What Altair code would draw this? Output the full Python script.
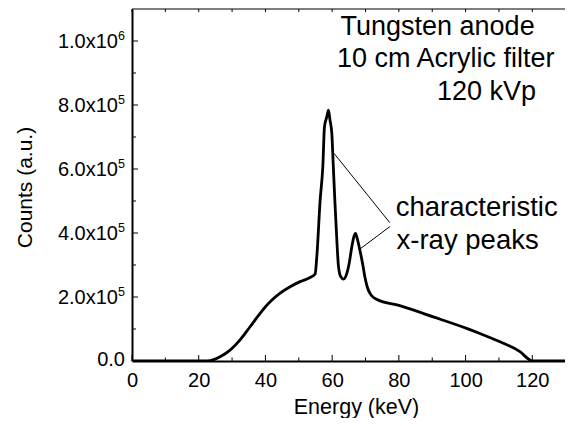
import altair as alt
import pandas as pd

# Spectrum
energy = [0, 20, 21.5, 23.4, 26.4, 29.4, 32.4, 35.4, 38.4, 41.4, 44.4, 47.4, 50.4, 53.4, 54.9,
          55.4, 56.4, 57.2, 57.7, 58.4, 58.9, 59.35, 59.9, 60.35, 60.8, 61.4, 61.9, 62.6,
          63.4, 64.4, 65.1, 65.9, 66.5, 67.0, 67.5, 68.3, 69.2, 69.8, 70.5, 71.3, 72.3,
          73.3, 80.5, 90.3, 100.3, 104.3, 110.3, 116.3, 119.3, 120, 130]
counts = [0, 0, 0, 1000, 13000, 34000, 66000, 107000, 149000, 185000, 212000, 232000,
          248000, 261000, 272000, 326000, 503000, 607000, 732000, 763000, 784000, 753000,
          711000, 607000, 503000, 378000, 295000, 263000, 256000, 274000, 305000, 357000,
          388000, 399000, 383000, 347000, 300000, 263000, 232000, 212000, 199000, 193000,
          172000, 138000, 102000, 86000, 60000, 29000, 3000, 0, 0]

# Axis ticks / labels
x_major = [0, 20, 40, 60, 80, 100, 120]
x_minor = [10, 30, 50, 70, 90, 110]
x_top = [0, 10, 20, 30, 40, 50, 60, 70, 80, 90, 100, 110, 120]
y_major = [200000, 400000, 600000, 800000, 1000000]
y_minor = [100000, 300000, 500000, 700000, 900000]
y_mantissa = ["2.0x10", "4.0x10", "6.0x10", "8.0x10", "1.0x10"]
y_exponent = ["5", "5", "5", "5", "6"]
y_zero = [0]
y_zero_label = ["0.0"]

# Annotations
info_text = ["Tungsten anode", "10 cm Acrylic filter", "120 kVp"]
info_x = [62.5, 61.45, 91.4]
info_y = [1019000, 919700, 815600]
peak_text = ["characteristic", "x-ray peaks"]
peak_x = [79.05, 79.3]
peak_y = [453000, 350000]
leader_x = [60.55, 77.3]
leader_y = [649000, 420000]
leader_x2 = [77.3, 68.6]
leader_y2 = [432000, 352000]

FONT = "Liberation Sans"
W, H = 433, 352
XMAX = 129.8
xs = alt.Scale(domain=[0, XMAX], nice=False, zero=False)
ys = alt.Scale(domain=[0, 1100000], nice=False, zero=False)

spec = pd.DataFrame({"energy": energy, "counts": counts})

line = alt.Chart(spec).mark_line(color="black", strokeWidth=2.8, strokeJoin="round",
                                 interpolate="monotone", clip=True).encode(
    x=alt.X("energy:Q", scale=xs,
            axis=alt.Axis(values=x_major, ticks=False, tickSize=0, grid=False,
                          domainColor="black", domainWidth=2, labelFont=FONT,
                          labelFontSize=20, labelColor="black", labelPadding=9,
                          title="Energy (keV)", titleFont=FONT, titleFontSize=21.5,
                          titleFontWeight="normal", titleColor="black",
                          titleX=224, titleY=52, titleBaseline="alphabetic",
                          titleAlign="center", labelFlush=False)),
    y=alt.Y("counts:Q", scale=ys,
            axis=alt.Axis(values=y_major, labels=False, ticks=False, tickSize=0, grid=False,
                          domainColor="black", domainWidth=2,
                          title="Counts (a.u.)", titleFont=FONT, titleFontSize=21,
                          titleFontWeight="normal", titleColor="black", titleAngle=270,
                          titleX=-101, titleY=178, titleBaseline="alphabetic",
                          titleAlign="center")),
)

# tick rules (inward ticks)
xmaj = alt.Chart(pd.DataFrame({"v": x_major})).mark_rule(color="black", strokeWidth=1).encode(
    x=alt.X("v:Q", scale=xs), y=alt.value(H), y2=alt.value(H - 6))
xmin = alt.Chart(pd.DataFrame({"v": x_minor})).mark_rule(color="black", strokeWidth=1).encode(
    x=alt.X("v:Q", scale=xs), y=alt.value(H), y2=alt.value(H - 3.5))
xtop = alt.Chart(pd.DataFrame({"v": x_top})).mark_rule(color="black", strokeWidth=1).encode(
    x=alt.X("v:Q", scale=xs), y=alt.value(0), y2=alt.value(3))
topline = alt.Chart(pd.DataFrame({"v": [0]})).mark_rule(color="black", strokeWidth=1.2).encode(
    x=alt.value(0), x2=alt.value(W), y=alt.value(0))
ymaj = alt.Chart(pd.DataFrame({"v": y_major})).mark_rule(color="black", strokeWidth=1).encode(
    y=alt.Y("v:Q", scale=ys), x=alt.value(0), x2=alt.value(6))
ymin = alt.Chart(pd.DataFrame({"v": y_minor})).mark_rule(color="black", strokeWidth=1).encode(
    y=alt.Y("v:Q", scale=ys), x=alt.value(0), x2=alt.value(4))

# y tick labels with superscript exponents
ylab = pd.DataFrame({"v": y_major, "m": y_mantissa, "e": y_exponent})
ymant = alt.Chart(ylab).mark_text(font=FONT, fontSize=20, color="black", align="right",
                                  baseline="middle", dy=1).encode(
    y=alt.Y("v:Q", scale=ys), x=alt.value(-14), text="m:N")
yexp = alt.Chart(ylab).mark_text(font=FONT, fontSize=12.5, color="black", align="left",
                                 baseline="middle", dy=-5).encode(
    y=alt.Y("v:Q", scale=ys), x=alt.value(-14), text="e:N")
yzero = alt.Chart(pd.DataFrame({"v": y_zero, "t": y_zero_label})).mark_text(
    font=FONT, fontSize=20, color="black", align="right", baseline="middle", dy=-1).encode(
    y=alt.Y("v:Q", scale=ys), x=alt.value(-7), text="t:N")

# annotations
info = alt.Chart(pd.DataFrame({"x": info_x, "y": info_y, "t": info_text})).mark_text(
    font=FONT, fontSize=27, color="black", align="left", baseline="alphabetic").encode(
    x=alt.X("x:Q", scale=xs), y=alt.Y("y:Q", scale=ys), text="t:N")
peaks = alt.Chart(pd.DataFrame({"x": peak_x, "y": peak_y, "t": peak_text})).mark_text(
    font=FONT, fontSize=27.5, color="black", align="left", baseline="alphabetic").encode(
    x=alt.X("x:Q", scale=xs), y=alt.Y("y:Q", scale=ys), text="t:N")
leaders = alt.Chart(pd.DataFrame({"x": leader_x, "y": leader_y, "x2": leader_x2,
                                  "y2": leader_y2})).mark_rule(color="black", strokeWidth=1).encode(
    x=alt.X("x:Q", scale=xs), y=alt.Y("y:Q", scale=ys), x2="x2:Q", y2="y2:Q")

chart = alt.layer(line, xmaj, xmin, xtop, topline, ymaj, ymin, ymant, yexp, yzero,
                  info, peaks, leaders).properties(
    width=W, height=H,
    autosize=alt.AutoSizeParams(type="none"),
    padding={"left": 124, "top": 1, "right": 0, "bottom": 57},
    background="white",
).configure_view(stroke=None)

chart.save("out.html", embed_options={"renderer": "svg", "actions": False})
